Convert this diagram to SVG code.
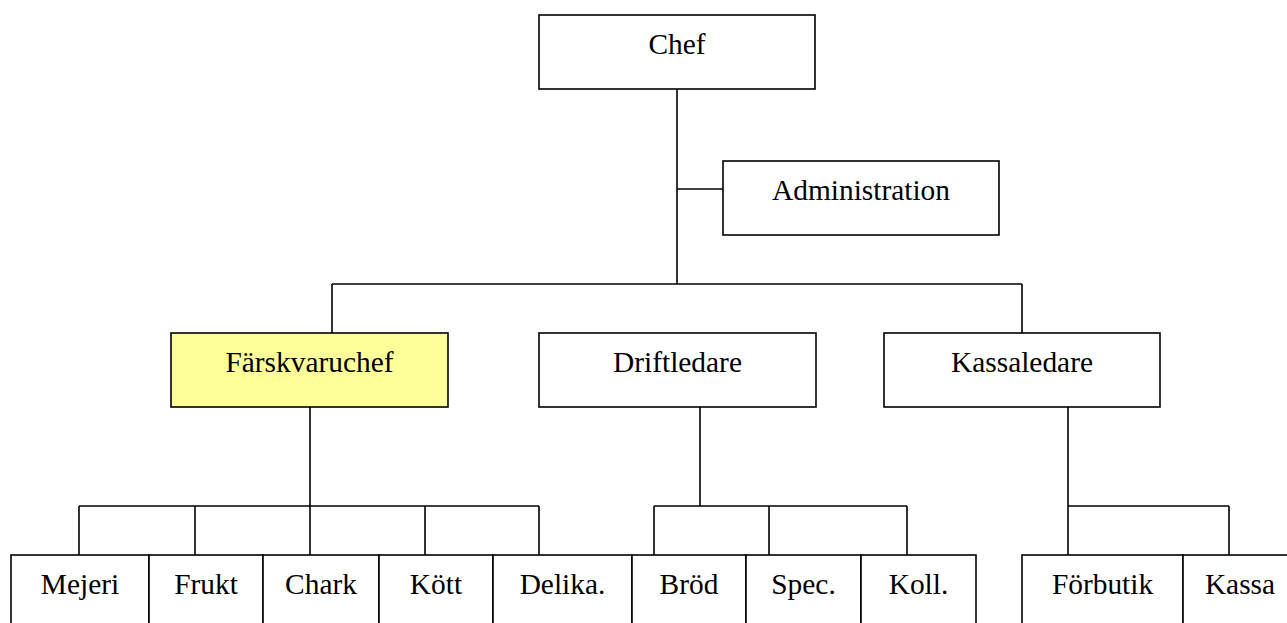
<svg xmlns="http://www.w3.org/2000/svg" width="1287" height="623" viewBox="0 0 1287 623">
  <style>
    .box { fill: #ffffff; stroke: #000000; stroke-width: 1.6; }
    .hl { fill: #ffff99; }
    .lbl { font-family: "Liberation Serif", "Times New Roman", serif; font-size: 29.4px; fill: #000000; text-anchor: middle; }
    .wire { fill: none; stroke: #000000; stroke-width: 1.6; }
  </style>
  <rect width="1287" height="623" fill="#ffffff"/>

  <!-- connectors -->
  <g id="connectors" class="wire">
    <!-- top level trunk -->
    <path d="M677 89 V284"/>
    <path d="M677 189 H723"/>
    <path d="M332 284 H1022"/>
    <path d="M332 284 V333"/>
    <path d="M1022 284 V333"/>
    <!-- Färskvaruchef branch -->
    <path d="M310 407 V506"/>
    <path d="M79 506 H539"/>
    <path d="M79 506 V555"/>
    <path d="M195 506 V555"/>
    <path d="M310 506 V555"/>
    <path d="M425 506 V555"/>
    <path d="M539 506 V555"/>
    <!-- Driftledare branch -->
    <path d="M700 407 V506"/>
    <path d="M654 506 H907"/>
    <path d="M654 506 V555"/>
    <path d="M769 506 V555"/>
    <path d="M907 506 V555"/>
    <!-- Kassaledare branch -->
    <path d="M1068 407 V506"/>
    <path d="M1068 506 H1229"/>
    <path d="M1068 506 V555"/>
    <path d="M1229 506 V555"/>
  </g>

  <!-- managers -->
  <g id="chef">
    <rect class="box" x="539" y="15" width="276" height="74"/>
    <text class="lbl" x="677" y="53.5">Chef</text>
  </g>
  <g id="administration">
    <rect class="box" x="723" y="161" width="276" height="74"/>
    <text class="lbl" x="861" y="199.5">Administration</text>
  </g>
  <g id="farskvaruchef">
    <rect class="box hl" x="171" y="333" width="277" height="74"/>
    <text class="lbl" x="309.5" y="372">Färskvaruchef</text>
  </g>
  <g id="driftledare">
    <rect class="box" x="539" y="333" width="277" height="74"/>
    <text class="lbl" x="677.5" y="372">Driftledare</text>
  </g>
  <g id="kassaledare">
    <rect class="box" x="884" y="333" width="276" height="74"/>
    <text class="lbl" x="1022" y="372">Kassaledare</text>
  </g>

  <!-- departments (run past the bottom edge) -->
  <g id="mejeri">
    <rect class="box" x="11" y="555" width="138" height="90"/>
    <text class="lbl" x="80" y="594">Mejeri</text>
  </g>
  <g id="frukt">
    <rect class="box" x="149" y="555" width="114" height="90"/>
    <text class="lbl" x="206" y="594">Frukt</text>
  </g>
  <g id="chark">
    <rect class="box" x="263" y="555" width="116" height="90"/>
    <text class="lbl" x="321" y="594">Chark</text>
  </g>
  <g id="kott">
    <rect class="box" x="379" y="555" width="114" height="90"/>
    <text class="lbl" x="436" y="594">Kött</text>
  </g>
  <g id="delika">
    <rect class="box" x="493" y="555" width="139" height="90"/>
    <text class="lbl" x="562.5" y="594">Delika.</text>
  </g>
  <g id="brod">
    <rect class="box" x="632" y="555" width="114" height="90"/>
    <text class="lbl" x="689" y="594">Bröd</text>
  </g>
  <g id="spec">
    <rect class="box" x="746" y="555" width="115" height="90"/>
    <text class="lbl" x="803.5" y="594">Spec.</text>
  </g>
  <g id="koll">
    <rect class="box" x="861" y="555" width="115" height="90"/>
    <text class="lbl" x="918.5" y="594">Koll.</text>
  </g>
  <g id="forbutik">
    <rect class="box" x="1022" y="555" width="161" height="90"/>
    <text class="lbl" x="1102.5" y="594">Förbutik</text>
  </g>
  <g id="kassa">
    <rect class="box" x="1183" y="555" width="114" height="90"/>
    <text class="lbl" x="1240" y="594">Kassa</text>
  </g>
</svg>
